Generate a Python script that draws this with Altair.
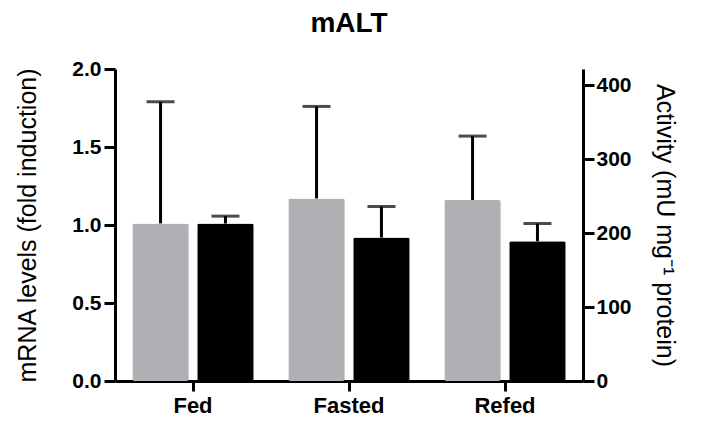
import altair as alt
import pandas as pd

categories = ["Fed", "Fasted", "Refed"]
series_names = ["mRNA", "Activity"]
mrna_values = [1.01, 1.17, 1.16]
mrna_errors = [0.78, 0.59, 0.41]
activity_values = [213, 194, 189]
activity_errors = [10, 42, 24]
left_ticks = [0, 0.5, 1.0, 1.5, 2.0]
right_ticks = [0, 100, 200, 300, 400]

rows = []
for c, v, e in zip(categories, mrna_values, mrna_errors):
    rows.append({"condition": c, "series": "mRNA", "value": v, "upper": v + e})
for c, v, e in zip(categories, activity_values, activity_errors):
    rows.append({"condition": c, "series": "Activity", "value": v, "upper": v + e})
df = pd.DataFrame(rows)

FONT = "Liberation Sans"

x_enc = alt.X(
    "condition:N",
    sort=categories,
    scale=alt.Scale(paddingInner=0.222, paddingOuter=0.111),
    axis=alt.Axis(
        title=None, labelFontSize=22, labelFontWeight="bold", labelAngle=0,
        tickSize=10, labelPadding=4,
    ),
)
xoff = alt.XOffset(
    "series:N", sort=series_names,
    scale=alt.Scale(domain=series_names, paddingInner=0.13, paddingOuter=0),
)


def panel(series, color, domain, ticks, fmt, orient, title, title_x, angle, lpad):
    base = alt.Chart(df).transform_filter(alt.datum.series == series)
    axis = alt.Axis(
        orient=orient, values=ticks, format=fmt, title=title,
        titleX=title_x, titleY=156, titleAngle=angle, titleBaseline="middle",
        titleAlign="center", titleFontSize=25, titleFontWeight="normal",
        labelFontSize=21, labelFontWeight="bold", tickSize=11, labelPadding=lpad,
    )
    y_scale = alt.Scale(domain=domain, nice=False, zero=True)
    bars = base.mark_bar(color=color, cornerRadius=2).encode(
        x=x_enc, xOffset=xoff, y=alt.Y("value:Q", scale=y_scale, axis=axis)
    )
    rule = base.mark_rule(color="black", strokeWidth=3).encode(
        x=x_enc, xOffset=xoff, y=alt.Y("value:Q", scale=y_scale, axis=axis), y2="upper:Q"
    )
    cap = base.mark_tick(color="black", thickness=3, size=28).encode(
        x=x_enc, xOffset=xoff, y=alt.Y("upper:Q", scale=y_scale, axis=axis)
    )
    return alt.layer(bars, rule, cap)


left = panel("mRNA", "#AFB0B3", [0, 2], left_ticks, ".1f", "left",
             "mRNA levels (fold induction)", -88, 270, 3)
right = panel("Activity", "#000000", [0, 422], right_ticks, "d", "right",
              "Activity (mU mg\u207b\u00b9 protein)", 81, 90, 2)

chart = (
    alt.layer(left, right)
    .resolve_scale(y="independent")
    .properties(
        width=468, height=312,
        title=alt.TitleParams("mALT", fontSize=28, fontWeight="bold", anchor="middle", offset=20, font=FONT, color="black"),
        autosize=alt.AutoSizeParams(type="none"),
        padding={"left": 107, "top": 61, "right": 100, "bottom": 35},
    )
    .configure_view(stroke=None)
    .configure_axis(
        grid=False, domainColor="black", domainWidth=3, tickColor="black", tickWidth=3,
        labelColor="black", titleColor="black", labelFont=FONT, titleFont=FONT,
    )
)

chart.save("out.html", embed_options={"renderer": "svg", "actions": False})
